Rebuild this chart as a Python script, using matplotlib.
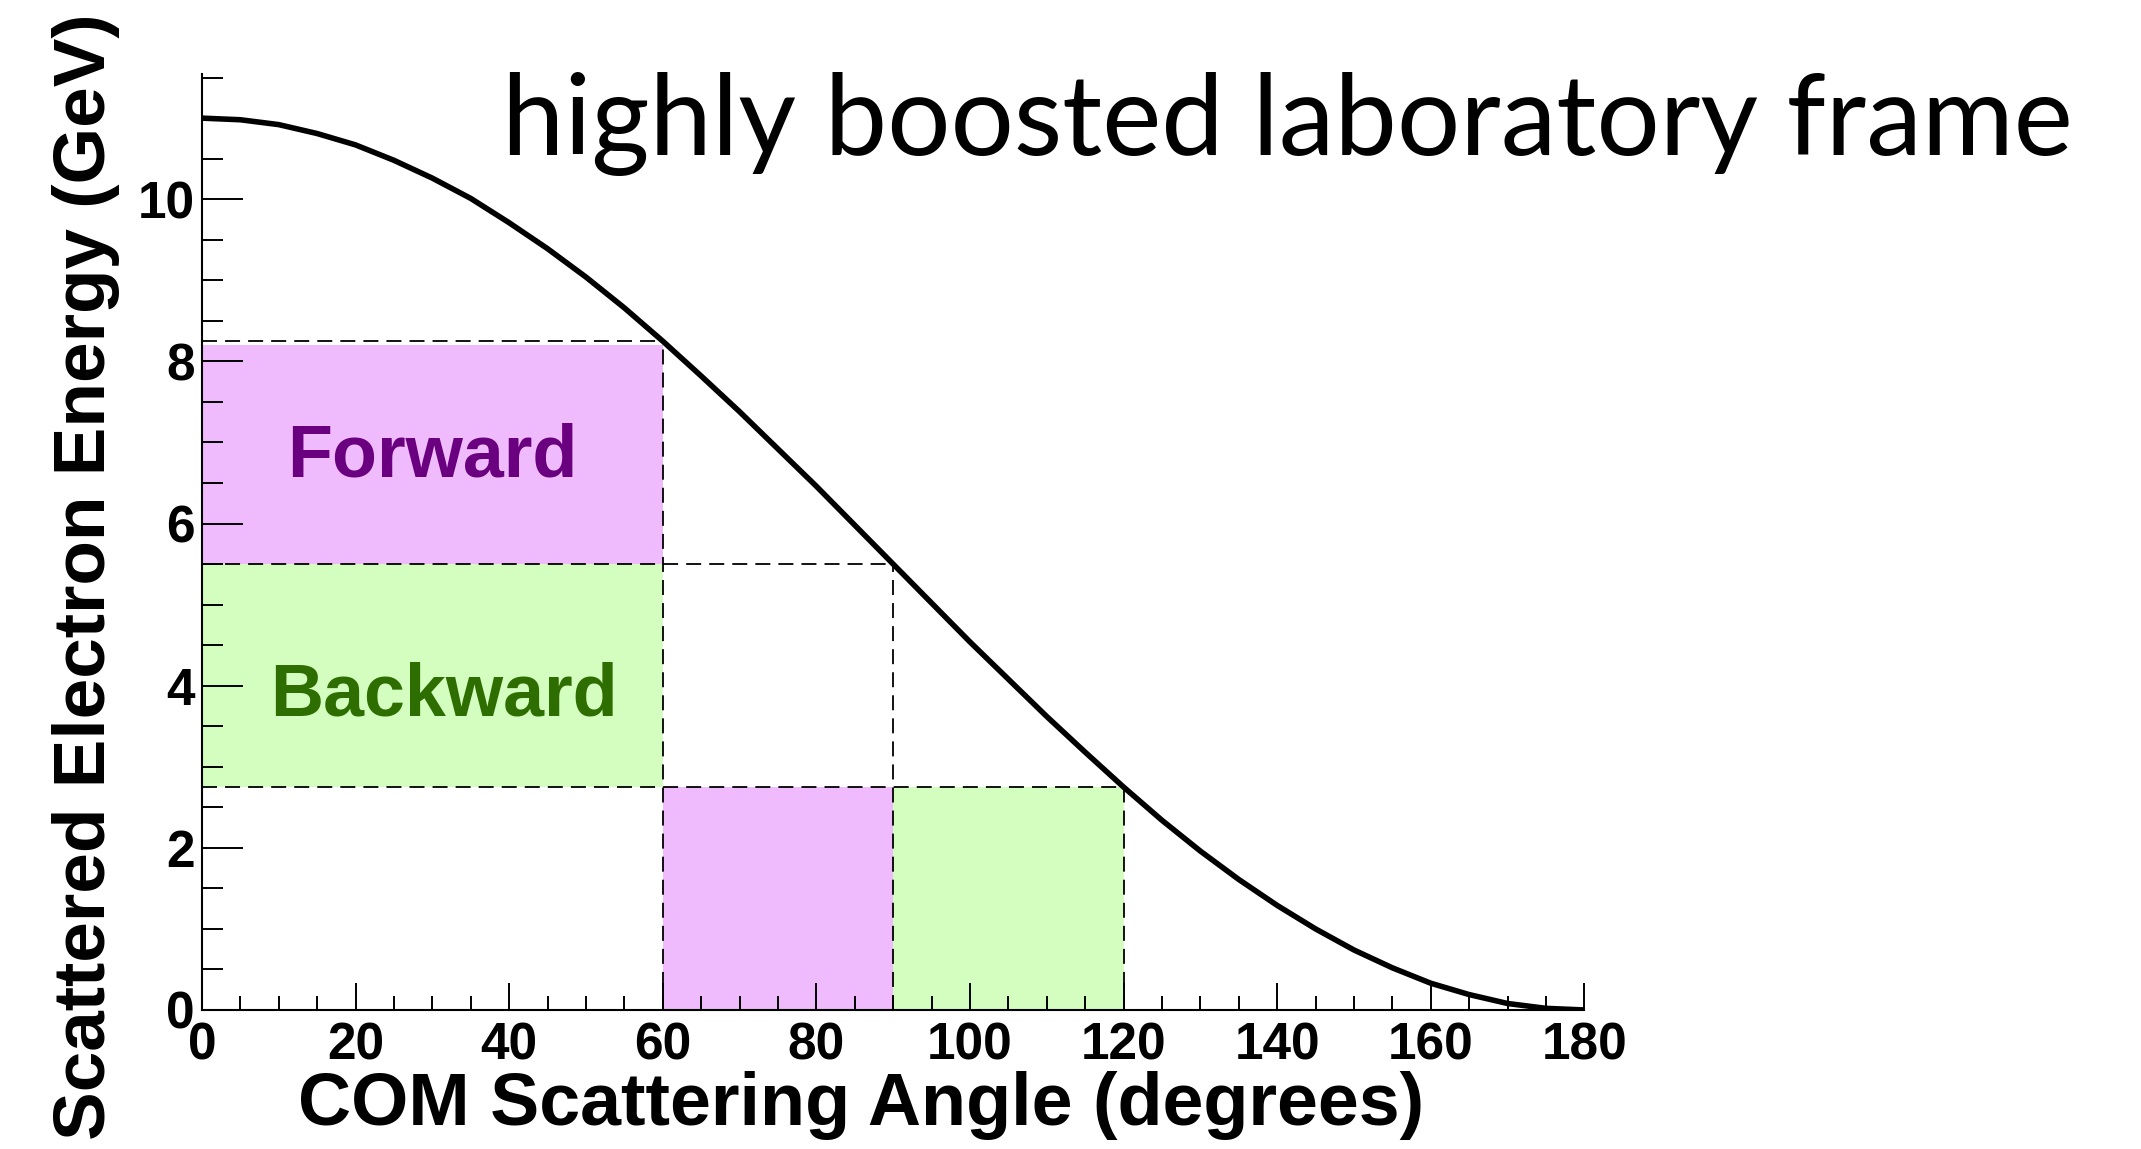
import numpy as np
import matplotlib
matplotlib.use("Agg")
import matplotlib.pyplot as plt

### data ###
angle_deg = [0, 5, 10, 15, 20, 25, 30, 35, 40, 45, 50, 55, 60, 65, 70, 75, 80, 85, 90,
             95, 100, 105, 110, 115, 120, 125, 130, 135, 140, 145, 150, 155, 160, 165,
             170, 175, 180]
energy_gev = [11.00, 10.98, 10.92, 10.81, 10.67, 10.48, 10.26, 10.01, 9.71, 9.39, 9.04,
              8.66, 8.25, 7.82, 7.38, 6.92, 6.46, 5.98, 5.50, 5.02, 4.54, 4.08, 3.62,
              3.18, 2.75, 2.34, 1.96, 1.61, 1.29, 1.00, 0.74, 0.52, 0.33, 0.19, 0.08,
              0.02, 0.00]

# shaded boxes: (x0, x1, y0, y1, kind)
box_x0 = [0, 0, 60, 90]
box_x1 = [60, 60, 90, 120]
box_y0 = [5.5, 2.75, 0.0, 0.0]
box_y1 = [8.2, 5.5, 2.75, 2.75]
box_kind = ['fwd', 'bwd', 'fwd', 'bwd']

# dashed guide lines
hline_y = [8.25, 5.5, 2.75]
hline_xmax = [60, 90, 120]
vline_x = [60, 90, 120]
vline_ymax = [8.25, 5.5, 2.75]

labels = ['Forward', 'Backward']
label_x = [30, 31.5]
label_y = [6.82, 3.87]
#====================

fill_col = {'fwd': '#EFBBFC', 'bwd': '#D4FEC0'}
text_col = ['#6A0080', '#2E6E00']

plt.rcParams['lines.scale_dashes'] = False
bold = dict(family=['Liberation Sans', 'DejaVu Sans'], weight='bold')

fig = plt.figure(figsize=(21.41, 11.49), dpi=100)
ax = fig.add_axes([0.0943, 0.121, 0.740 - 0.0943, 0.936 - 0.121])

for x0, x1, y0, y1, k in zip(box_x0, box_x1, box_y0, box_y1, box_kind):
    ax.fill_between([x0, x1], y0, y1, color=fill_col[k], lw=0, zorder=1)

for y, xm in zip(hline_y, hline_xmax):
    ax.plot([0, xm], [y, y], color='black', lw=1.3, dashes=(10.8, 5.8), zorder=2)
for x, ym in zip(vline_x, vline_ymax):
    ax.plot([x, x], [0, ym], color='black', lw=1.3, dashes=(10.8, 5.8), zorder=2)

ax.plot(angle_deg, energy_gev, color='black', lw=4.0, zorder=3,
        solid_capstyle='butt')

for t, x, y, c in zip(labels, label_x, label_y, text_col):
    ax.text(x, y, t, color=c, fontsize=53, ha='center', va='center', **bold)

ax.set_xlim(0, 180)
ax.set_ylim(0, 11.55)
ax.spines['top'].set_visible(False)
ax.spines['right'].set_visible(False)
ax.spines['left'].set_linewidth(1.5)
ax.spines['bottom'].set_linewidth(1.5)

ax.set_xticks(np.arange(0, 181, 20))
ax.set_xticks(np.arange(0, 181, 5), minor=True)
ax.set_yticks(np.arange(0, 11, 2))
ax.set_yticks(np.arange(0, 11.6, 0.5), minor=True)
ax.tick_params(axis='x', which='major', direction='in', length=19.4, width=1.4, pad=8)
ax.tick_params(axis='x', which='minor', direction='in', length=10, width=1.4)
ax.tick_params(axis='y', which='major', direction='in', length=29.5, width=1.4, pad=5)
ax.tick_params(axis='y', which='minor', direction='in', length=14.8, width=1.4)
ax.set_xticklabels([str(v) for v in range(0, 181, 20)])
for lab in ax.get_xticklabels() + ax.get_yticklabels():
    lab.set_fontsize(37)
    lab.set_fontweight('bold')
    lab.set_family(['Liberation Sans', 'DejaVu Sans'])

fig.text(0.402, 0.038, 'COM Scattering Angle (degrees)', fontsize=53,
         ha='center', va='center', **bold)
fig.text(0.040, 0.498, 'Scattered Electron Energy (GeV)', fontsize=52.5,
         ha='center', va='center', rotation=90, **bold)
fig.text(0.2345, 0.865, 'highly boosted laboratory frame', fontsize=80.5,
         family=['Lato', 'DejaVu Sans'], ha='left', va='baseline')

fig.savefig('out.png', dpi=100)
